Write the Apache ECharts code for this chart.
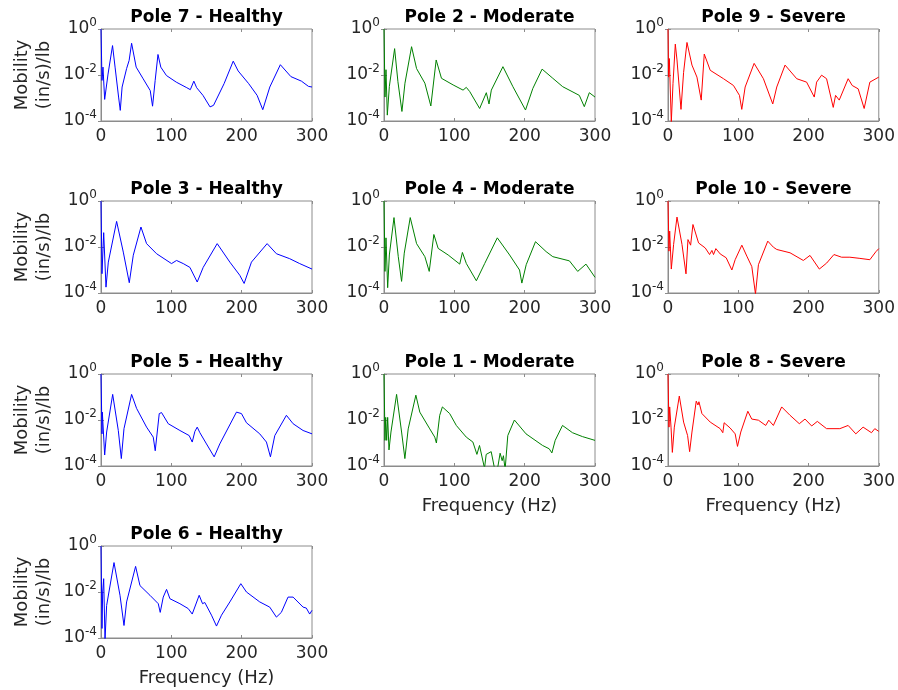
<!DOCTYPE html>
<html>
<head>
<meta charset="utf-8">
<script src="https://cdn.jsdelivr.net/npm/echarts@6/dist/echarts.min.js"></script>
<style>
  html, body { margin: 0; padding: 0; background: #fff; }
  #chart { width: 898px; height: 690px; }
</style>
</head>
<body>
<div id="chart"></div>
<script>
// frequency (Hz) / mobility ((in/s)/lb)
const pole7Freq = [0, 1.4, 2.8, 5.2, 10, 16.4, 20, 25, 27.4, 30, 36.4, 40, 43.5, 50, 60, 70, 73.3, 77, 81, 85, 93, 107, 122, 127, 132, 136, 145, 155, 160, 175, 188, 195, 210, 222, 230, 240, 255, 270, 285, 295, 300]
const pole7Mob = [1, 5.8e-3, 2.2e-2, 8.7e-4, 1.1e-2, 1.9e-1, 2.2e-2, 1.1e-3, 2.9e-4, 3.0e-3, 1.9e-2, 4.3e-2, 2.4e-1, 2.2e-2, 6.8e-3, 2.1e-3, 4.4e-4, 5.8e-3, 7.8e-2, 2.2e-2, 9.5e-3, 4.9e-3, 2.8e-3, 2.3e-3, 5.4e-3, 2.8e-3, 1.3e-3, 4.1e-4, 4.8e-4, 4.2e-3, 4.0e-2, 1.5e-2, 4.2e-3, 1.3e-3, 3.1e-4, 3.0e-3, 2.8e-2, 8.5e-3, 5.4e-3, 3.2e-3, 3.0e-3]

const pole2Freq = [0, 1.4, 2.8, 4.7, 7.6, 15.1, 19.8, 25.5, 29.8, 39.2, 46.3, 58.1, 66.6, 74.2, 81.7, 98.3, 112.4, 117, 121.9, 136, 145.5, 149.3, 152.6, 169.1, 183.3, 201.2, 211.6, 224.8, 240, 254.1, 277.7, 284.8, 291.9, 300]
const pole2Mob = [1, 1.1e-3, 1.7e-2, 1.8e-4, 3.2e-3, 1.4e-1, 5.1e-3, 2.6e-4, 4.4e-3, 1.7e-1, 1.9e-2, 4.4e-3, 4.5e-4, 4.5e-2, 7.2e-3, 3.7e-3, 2.2e-3, 2.9e-3, 1.9e-3, 3.5e-4, 1.7e-3, 5.5e-4, 2.2e-3, 2.3e-2, 3.1e-3, 3.0e-4, 2.6e-3, 1.8e-2, 7.2e-3, 3.1e-3, 1.3e-3, 4.2e-4, 1.7e-3, 1.1e-3]

const pole9Freq = [0, 0.9, 1.9, 4.7, 7.1, 10.4, 12.8, 18.5, 22.2, 27, 34.1, 41.2, 47.3, 51.6, 60.1, 79, 93.2, 101.7, 105, 109.8, 122.6, 135.8, 149.1, 154.8, 166.6, 183.2, 197.3, 208.2, 211.5, 218.6, 225.7, 235.2, 238.5, 243.7, 256.4, 262.2, 270.7, 279.2, 287.3, 300]
const pole9Mob = [1, 8.1e-3, 5.2e-2, 9e-5, 4.2e-3, 2.2e-1, 4.5e-2, 3.2e-4, 1.3e-2, 2.6e-1, 2.7e-2, 8.1e-3, 8.1e-4, 8.1e-2, 1.6e-2, 6.9e-3, 3.5e-3, 1.3e-3, 3.2e-4, 3.0e-3, 3.2e-2, 6.9e-3, 5.5e-4, 3.0e-3, 2.7e-2, 6.9e-3, 4.9e-3, 1.1e-3, 4.9e-3, 9.8e-3, 6.9e-3, 3.9e-4, 1.3e-3, 8.1e-4, 6.9e-3, 3.5e-3, 2.5e-3, 3.5e-4, 4.9e-3, 8.1e-3]

const pole3Freq = [0, 1.4, 3.8, 7.1, 10.4, 22.2, 31.7, 40.2, 45.9, 56.8, 64.8, 79, 100.3, 107.4, 116.9, 126.4, 136.8, 145.3, 165.2, 183.2, 197.3, 203.5, 213.9, 236.2, 249.4, 268.3, 282.5, 300]
const pole3Mob = [1, 6.9e-4, 4.2e-2, 1.8e-4, 2.2e-3, 1.3e-1, 6.0e-3, 2.8e-4, 4.4e-3, 7.4e-2, 1.4e-2, 5.1e-3, 1.9e-3, 2.6e-3, 1.9e-3, 1.3e-3, 3.0e-4, 1.3e-3, 1.4e-2, 2.2e-3, 5.9e-4, 2.6e-4, 2.2e-3, 1.4e-2, 5.1e-3, 3.1e-3, 1.9e-3, 1.1e-3]

const pole4Freq = [0, 1.4, 2.8, 5.2, 7.6, 14.2, 20.3, 25, 28.8, 37.3, 46.3, 58.1, 64.3, 70.9, 77, 91.2, 107.7, 111.5, 117.1, 131.3, 143.1, 161.1, 178.6, 192.7, 196, 202.2, 215.4, 230.5, 240, 263.6, 275.4, 287.2, 300]
const pole4Mob = [1, 8.7e-4, 2.5e-2, 1.7e-4, 4.5e-3, 1.9e-1, 3.8e-3, 3.2e-4, 5.4e-3, 1.9e-1, 1.4e-2, 3.8e-3, 8.7e-4, 3.5e-2, 8.7e-3, 4.5e-3, 1.8e-3, 5.8e-3, 1.9e-3, 3.4e-4, 1.9e-3, 2.5e-2, 4.5e-3, 1.0e-3, 2.7e-4, 1.7e-3, 1.7e-2, 6.3e-3, 3.8e-3, 2.5e-3, 8.7e-4, 1.8e-3, 4.8e-4]

const pole10Freq = [0, 1.4, 2.4, 4.7, 8, 12.8, 19.9, 25.6, 28.4, 32.2, 35.5, 43.5, 53, 59.2, 62.5, 64.8, 68.1, 74.3, 82.8, 90.9, 95.6, 105.1, 112.2, 119.3, 124.5, 128.7, 142, 150, 154.8, 173.7, 192.6, 202.1, 215.4, 225.8, 236.2, 247.1, 258.9, 273.1, 287.3, 295.8, 300]
const pole10Mob = [1, 6.6e-3, 4.9e-2, 1.1e-3, 1.3e-2, 2.0e-1, 1.3e-2, 6.8e-4, 2.1e-2, 1.2e-2, 9.5e-2, 1.5e-2, 9.1e-3, 4.7e-3, 7.1e-3, 4.7e-3, 8.5e-3, 5.0e-3, 3.4e-3, 1.0e-3, 2.8e-3, 1.2e-2, 4.0e-3, 1.4e-3, 9e-5, 1.7e-3, 1.8e-2, 9.8e-3, 7.8e-3, 5.6e-3, 2.6e-3, 4.3e-3, 1.1e-3, 2.0e-3, 4.7e-3, 3.6e-3, 3.6e-3, 3.2e-3, 2.8e-3, 6.2e-3, 8.5e-3]

const pole5Freq = [0, 1.4, 1.9, 3.3, 5.2, 8, 16.6, 24.6, 28.9, 32.7, 43.5, 50.6, 64.8, 74.3, 77.1, 82.8, 86.1, 95.6, 112.2, 125.4, 129.7, 133.5, 136.8, 140.6, 150, 160.9, 168.9, 192.6, 199.7, 206.8, 225.7, 235.2, 240.9, 247.1, 263.6, 273.1, 287.3, 300]
const pole5Mob = [1, 2.5e-3, 2.2e-2, 2.2e-2, 3.0e-4, 3.0e-3, 1.3e-1, 3.5e-3, 2.1e-4, 4.2e-3, 1.3e-1, 3.2e-2, 4.9e-3, 1.8e-3, 4.6e-4, 1.9e-2, 2.1e-2, 6.9e-3, 3.5e-3, 2.1e-3, 1.1e-3, 3.2e-3, 4.9e-3, 2.8e-3, 9.1e-4, 2.5e-4, 9.1e-4, 2.2e-2, 1.9e-2, 7.6e-3, 2.5e-3, 1.1e-3, 2.5e-4, 2.1e-3, 1.6e-2, 6.9e-3, 3.5e-3, 2.5e-3]

const pole1Freq = [0, 1.4, 2.4, 3.8, 5.2, 7.1, 9.9, 17.9, 25, 29.7, 34.4, 45.3, 50.9, 65.1, 72.2, 74.5, 79.2, 80.7, 83, 93.4, 102.8, 117, 126.4, 132.1, 135.8, 142.9, 145.3, 152.4, 157.1, 161.8, 165.1, 168, 169.8, 172.2, 176, 185.4, 201.9, 225.5, 234.9, 238.7, 243.4, 253.8, 268, 282.1, 300]
const pole1Mob = [1, 1.3e-3, 1.3e-2, 1.3e-3, 1.3e-2, 5.0e-4, 3.0e-3, 1.3e-1, 3.0e-3, 2.1e-4, 4.1e-3, 1.2e-1, 2.2e-2, 4.1e-3, 1.8e-3, 1.0e-3, 1.6e-2, 2.2e-2, 3.7e-2, 1.9e-2, 5.8e-3, 1.8e-3, 1.1e-3, 3.2e-4, 7.8e-4, 8e-5, 3.2e-4, 4.2e-4, 8e-5, 9e-5, 3.6e-4, 1.7e-4, 2.8e-4, 7e-5, 2.1e-3, 1.0e-2, 2.5e-3, 7.8e-4, 5.6e-4, 3.7e-4, 1.3e-3, 5.8e-3, 2.8e-3, 1.9e-3, 1.3e-3]

const pole8Freq = [0, 1.4, 2.4, 4.3, 6.2, 9, 16.1, 22.2, 27.9, 30.8, 34.1, 40.2, 42.6, 44, 48.3, 60.1, 74.3, 78, 79.9, 88.4, 95.6, 98.9, 103.6, 113.6, 119.2, 128.7, 139.1, 143.4, 150, 161.8, 173.7, 186.9, 195, 204.5, 212.5, 225.7, 244.6, 256.4, 267.3, 277.7, 289.6, 294.3, 300]
const pole8Mob = [1, 4.9e-3, 3.7e-2, 4.9e-3, 3.9e-4, 4.9e-3, 1.1e-1, 8.1e-3, 2.1e-3, 4.2e-4, 3.0e-3, 6.6e-2, 4.5e-2, 6.2e-2, 1.9e-2, 8.1e-3, 4.2e-3, 2.8e-3, 7.6e-3, 4.5e-3, 2.5e-3, 7.1e-4, 3.0e-3, 2.4e-2, 1.1e-2, 9.8e-3, 5.8e-3, 9.8e-3, 5.8e-3, 3.7e-2, 1.6e-2, 6.9e-3, 1.1e-2, 5.5e-3, 8.7e-3, 4.2e-3, 4.2e-3, 5.8e-3, 2.5e-3, 4.9e-3, 2.8e-3, 4.2e-3, 3.2e-3]

const pole6Freq = [0, 1.4, 2.4, 3.8, 5.7, 8, 18.5, 27, 32.7, 36.4, 49.2, 55.4, 69.6, 81.4, 84.2, 88.5, 93.2, 98, 112.2, 124, 129.7, 139.6, 144.4, 147.6, 157.1, 164.2, 171.3, 183.2, 198.8, 206.8, 225.7, 239.9, 249.4, 256.4, 265.9, 273.1, 287.3, 291.9, 296.7, 300]
const pole6Mob = [1, 2.6e-4, 1.0e-2, 3.8e-2, 8e-5, 2.6e-3, 1.9e-1, 7.2e-3, 3.5e-4, 3.7e-3, 1.3e-1, 1.9e-2, 7.2e-3, 3.1e-3, 1.3e-3, 6.0e-3, 1.3e-2, 5.1e-3, 3.1e-3, 1.9e-3, 1.1e-3, 7.2e-3, 3.1e-3, 3.5e-3, 9.8e-4, 3.3e-4, 9.8e-4, 3.7e-3, 2.3e-2, 1.0e-2, 3.7e-3, 2.2e-3, 8.1e-4, 1.3e-3, 6.0e-3, 6.0e-3, 2.2e-3, 2.0e-3, 1.1e-3, 1.6e-3]

const conditionColors = { Healthy: '#0000ff', Moderate: '#008000', Severe: '#ff0000' }

// panel layout: [title, condition, freq, mobility, row, col]
const panels = [
  ['Pole 7', 'Healthy', pole7Freq, pole7Mob, 0, 0],
  ['Pole 2', 'Moderate', pole2Freq, pole2Mob, 0, 1],
  ['Pole 9', 'Severe', pole9Freq, pole9Mob, 0, 2],
  ['Pole 3', 'Healthy', pole3Freq, pole3Mob, 1, 0],
  ['Pole 4', 'Moderate', pole4Freq, pole4Mob, 1, 1],
  ['Pole 10', 'Severe', pole10Freq, pole10Mob, 1, 2],
  ['Pole 5', 'Healthy', pole5Freq, pole5Mob, 2, 0],
  ['Pole 1', 'Moderate', pole1Freq, pole1Mob, 2, 1],
  ['Pole 8', 'Severe', pole8Freq, pole8Mob, 2, 2],
  ['Pole 6', 'Healthy', pole6Freq, pole6Mob, 3, 0],
]

const colLeft = [101, 384, 668]
const rowTop = [29, 201, 374, 546]
const plotW = 211
const plotH = 92
const font = 'DejaVu Sans'
const textColor = '#262626'
const boxColor = '#8c8c8c'

const chart = echarts.init(document.getElementById('chart'))

const grid = []
const xAxis = []
const yAxis = []
const title = []
const series = []

panels.forEach(([name, cond, freq, mob, row, col], i) => {
  grid.push({ left: colLeft[col], top: rowTop[row], width: plotW, height: plotH, show: true, borderColor: boxColor, borderWidth: 1 })

  title.push({
    text: `${name} - ${cond}`,
    left: colLeft[col] + plotW / 2,
    top: rowTop[row] - 20,
    textAlign: 'center',
    padding: 0,
    textStyle: { fontFamily: font, fontSize: 17, fontWeight: 'bold', color: '#000' },
  })

  const bottomRow = (col === 0 && row === 3) || (col > 0 && row === 2)
  const tick = { show: true, inside: true, length: 3, lineStyle: { color: boxColor } }

  xAxis.push({
    gridIndex: i, type: 'value', min: 0, max: 300, interval: 100, position: 'bottom',
    axisLine: { show: true, lineStyle: { color: boxColor } },
    axisTick: tick,
    splitLine: { show: false },
    axisLabel: { fontFamily: font, fontSize: 17, color: textColor, margin: 7, showMinLabel: true, showMaxLabel: true },
    name: bottomRow ? 'Frequency (Hz)' : '',
    nameLocation: 'middle',
    nameGap: 31,
    nameTextStyle: { fontFamily: font, fontSize: 18, color: textColor },
  })
  xAxis.push({
    gridIndex: i, type: 'value', min: 0, max: 300, interval: 100, position: 'top',
    axisLine: { show: false }, axisTick: tick, axisLabel: { show: false }, splitLine: { show: false },
  })

  yAxis.push({
    gridIndex: i, type: 'log', logBase: 10, min: 1e-4, max: 1, interval: 2, position: 'left',
    axisLine: { show: true, lineStyle: { color: boxColor } },
    axisTick: tick,
    splitLine: { show: false },
    axisLabel: {
      margin: 4,
      formatter: v => {
        const e = Math.round(Math.log10(v))
        return e % 2 === 0 ? `{b|10}{s|${e}}` : ''
      },
      rich: {
        b: { fontFamily: font, fontSize: 17, color: textColor },
        s: { fontFamily: font, fontSize: 12, color: textColor, padding: [0, 0, 12, 0] },
      },
    },
    name: col === 0 ? 'Mobility\n(in/s)/lb' : '',
    nameLocation: 'middle',
    nameRotate: 90,
    nameGap: 46,
    nameTextStyle: { fontFamily: font, fontSize: 18, color: textColor, lineHeight: 22 },
  })
  yAxis.push({
    gridIndex: i, type: 'log', logBase: 10, min: 1e-4, max: 1, interval: 2, position: 'right',
    axisLine: { show: false }, axisTick: tick, axisLabel: { show: false }, splitLine: { show: false },
  })

  series.push({
    name,
    type: 'line',
    xAxisIndex: 2 * i,
    yAxisIndex: 2 * i,
    data: freq.map((f, k) => [f, mob[k]]),
    showSymbol: false,
    symbol: 'none',
    clip: true,
    lineStyle: { color: conditionColors[cond], width: 1 },
    itemStyle: { color: conditionColors[cond] },
  })
})

chart.setOption({
  animation: false,
  backgroundColor: '#fff',
  title,
  grid,
  xAxis,
  yAxis,
  series,
})
</script>
</body>
</html>
